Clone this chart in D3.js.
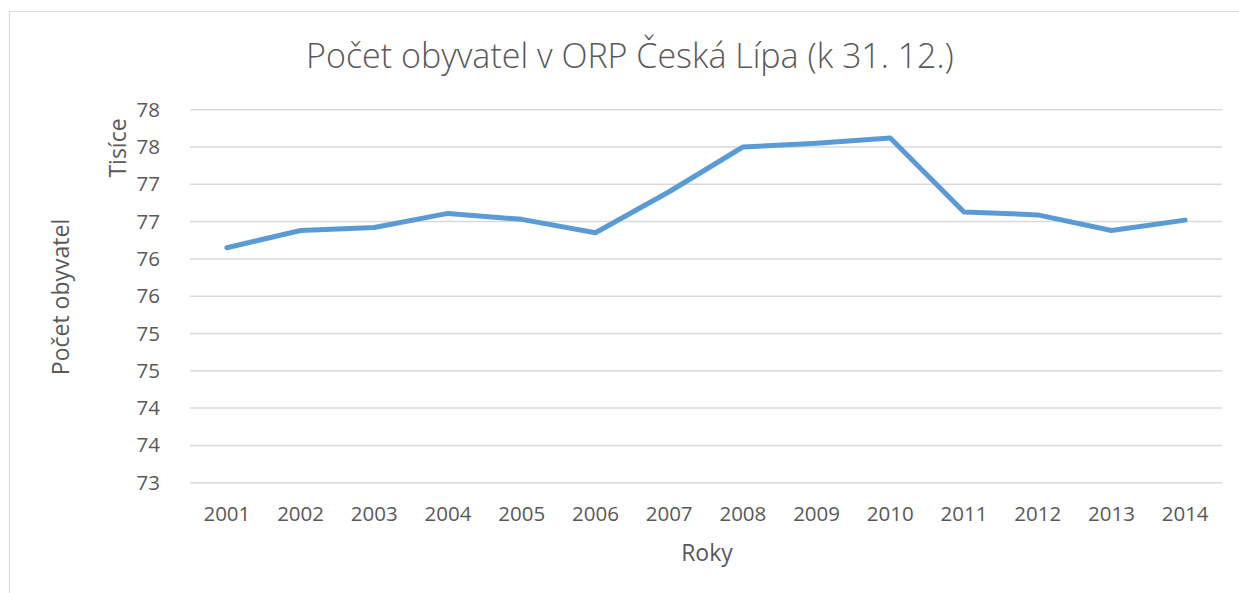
<!DOCTYPE html>
<meta charset="utf-8">
<style>
  body {
    margin: 0;
    background: #fff;
  }

  svg text {
    font-family: "Open Sans", sans-serif;
    fill: #595959;
  }

  .grid line {
    stroke: #d9d9d9;
    stroke-width: 1.5px;
  }

  .axis path,
  .axis line {
    display: none;
  }

  .line {
    fill: none;
    stroke: #5b9bd5;
    stroke-width: 5px;
    stroke-linejoin: round;
    stroke-linecap: round;
  }
</style>

<body>
  <svg width="1239" height="593"></svg>
</body>
<script src="https://d3js.org/d3.v7.min.js"></script>
<script>
  // years on the x axis
  var years = ["2001", "2002", "2003", "2004", "2005", "2006", "2007",
    "2008", "2009", "2010", "2011", "2012", "2013", "2014"];
  // population in thousands
  var population = [76.15, 76.38, 76.42, 76.61, 76.53, 76.35, 76.90,
    77.50, 77.55, 77.62, 76.63, 76.59, 76.38, 76.52];
  // y ticks every half thousand, Excel shows them rounded to whole numbers
  var yTicks = [73, 73.5, 74, 74.5, 75, 75.5, 76, 76.5, 77, 77.5, 78];

  var svg = d3.select("svg"),
    margin = {
      top: 109.7,
      right: 17,
      bottom: 110.3,
      left: 190
    },
    width = +svg.attr("width") - margin.left - margin.right,
    height = +svg.attr("height") - margin.top - margin.bottom;

  // chart frame
  svg.append("path")
    .attr("d", "M9.5,593 V11.5 H1239")
    .attr("fill", "none")
    .attr("stroke", "#d9d9d9")
    .attr("stroke-width", 1.2);

  var x = d3.scaleBand().domain(years).range([0, width]).padding(0),
    y = d3.scaleLinear().domain([73, 78]).range([height, 0]);

  var g = svg.append("g")
    .attr("transform", "translate(" + margin.left + "," + margin.top + ")");

  // horizontal gridlines
  g.append("g")
    .attr("class", "grid")
    .selectAll("line")
    .data(yTicks)
    .enter().append("line")
    .attr("x1", 0)
    .attr("x2", width)
    .attr("y1", function (d) { return y(d); })
    .attr("y2", function (d) { return y(d); });

  // y axis labels
  g.append("g")
    .attr("class", "axis axis--y")
    .attr("transform", "translate(-27,0)")
    .call(d3.axisLeft(y).tickValues(yTicks).tickSize(0)
      .tickFormat(function (d) { return Math.round(d); }))
    .selectAll("text")
    .style("font-size", "20.5px");

  // x axis labels
  g.append("g")
    .attr("class", "axis axis--x")
    .attr("transform", "translate(0," + height + ")")
    .call(d3.axisBottom(x).tickSize(0).tickPadding(24))
    .selectAll("text")
    .style("font-size", "20.5px");

  // the line
  var line = d3.line()
    .x(function (d, i) { return x(years[i]) + x.bandwidth() / 2; })
    .y(function (d) { return y(d); });

  g.append("path")
    .datum(population)
    .attr("class", "line")
    .attr("d", line);

  // title
  svg.append("text")
    .attr("x", 630)
    .attr("y", 68)
    .attr("text-anchor", "middle")
    .style("font-size", "34px")
    .style("font-weight", 300)
    .text("Počet obyvatel v ORP Česká Lípa (k 31. 12.)");

  // axis titles
  svg.append("text")
    .attr("transform", "translate(126,148) rotate(-90)")
    .attr("text-anchor", "middle")
    .style("font-size", "23px")
    .text("Tisíce");

  svg.append("text")
    .attr("transform", "translate(69,297) rotate(-90)")
    .attr("text-anchor", "middle")
    .style("font-size", "23px")
    .text("Počet obyvatel");

  svg.append("text")
    .attr("x", 707)
    .attr("y", 561)
    .attr("text-anchor", "middle")
    .style("font-size", "23px")
    .text("Roky");
</script>
